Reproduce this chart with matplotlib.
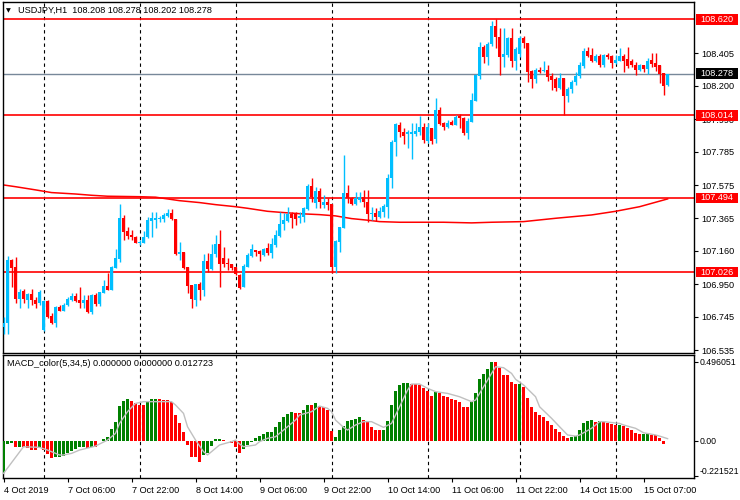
import numpy as np
import matplotlib.pyplot as plt
from matplotlib.patches import Rectangle
from matplotlib.transforms import blended_transform_factory

plt.rcParams['font.family'] = ['Liberation Sans', 'DejaVu Sans']
plt.rcParams['font.size'] = 6.6

# USDJPY H1 candles, bar 0 = 4 Oct 2019 14:00
opens = [106.683, 106.709, 107.104, 107.058, 106.860, 106.906, 106.854, 106.888, 106.850, 106.831,
         106.665, 106.843, 106.751, 106.709, 106.808, 106.782, 106.818, 106.852, 106.877, 106.852,
         106.833, 106.852, 106.778, 106.881, 106.826, 106.898, 106.940, 106.915, 107.055, 107.110,
         107.370, 107.286, 107.261, 107.250, 107.213, 107.213, 107.247, 107.349, 107.356, 107.360,
         107.364, 107.381, 107.402, 107.362, 107.143, 107.156, 107.061, 106.946, 106.852, 106.951,
         106.915, 107.097, 107.045, 107.140, 107.204, 107.114, 107.080, 107.077, 107.061, 107.009,
         106.932, 107.061, 107.129, 107.167, 107.160, 107.135, 107.177, 107.146, 107.198, 107.257,
         107.330, 107.351, 107.393, 107.398, 107.366, 107.376, 107.423, 107.572, 107.465, 107.538,
         107.450, 107.471, 107.458, 107.060, 107.219, 107.307, 107.524, 107.496, 107.458, 107.482,
         107.502, 107.467, 107.395, 107.400, 107.376, 107.408, 107.439, 107.618, 107.845, 107.954,
         107.912, 107.896, 107.899, 107.897, 107.908, 107.940, 107.855, 107.937, 107.866, 108.049,
         107.965, 107.943, 107.975, 107.954, 108.013, 107.996, 107.906, 107.975, 108.107, 108.265,
         108.447, 108.384, 108.462, 108.578, 108.510, 108.384, 108.395, 108.504, 108.357, 108.400,
         108.504, 108.471, 108.294, 108.244, 108.301, 108.294, 108.301, 108.265, 108.244, 108.189,
         108.252, 108.137, 108.181, 108.223, 108.263, 108.328, 108.420, 108.395, 108.357, 108.391,
         108.332, 108.395, 108.389, 108.343, 108.359, 108.391, 108.370, 108.357, 108.332, 108.301,
         108.332, 108.307, 108.364, 108.343, 108.332, 108.280, 108.208]
highs = [106.746, 107.129, 107.110, 107.121, 106.921, 106.921, 106.898, 106.921, 106.872, 106.915,
         106.852, 106.852, 106.768, 106.812, 106.822, 106.833, 106.872, 106.894, 106.894, 106.934,
         106.883, 106.883, 106.888, 106.894, 106.904, 106.978, 107.024, 107.066, 107.173, 107.456,
         107.387, 107.313, 107.293, 107.255, 107.230, 107.288, 107.373, 107.406, 107.406, 107.381,
         107.402, 107.427, 107.427, 107.362, 107.219, 107.156, 107.061, 106.946, 106.951, 106.967,
         107.141, 107.148, 107.204, 107.261, 107.293, 107.184, 107.118, 107.077, 107.061, 107.015,
         107.078, 107.146, 107.203, 107.167, 107.167, 107.181, 107.209, 107.240, 107.293, 107.408,
         107.398, 107.439, 107.408, 107.408, 107.408, 107.439, 107.581, 107.618, 107.565, 107.559,
         107.513, 107.496, 107.458, 107.230, 107.313, 107.765, 107.576, 107.502, 107.534, 107.534,
         107.545, 107.545, 107.439, 107.429, 107.439, 107.455, 107.644, 107.860, 107.965, 107.971,
         107.933, 107.923, 107.965, 107.965, 108.013, 107.965, 107.965, 107.937, 108.126, 108.069,
         107.975, 107.986, 107.986, 108.017, 108.022, 108.006, 107.996, 108.154, 108.274, 108.475,
         108.458, 108.479, 108.609, 108.619, 108.563, 108.567, 108.510, 108.563, 108.447, 108.517,
         108.517, 108.471, 108.301, 108.315, 108.321, 108.357, 108.332, 108.280, 108.258, 108.280,
         108.252, 108.195, 108.238, 108.290, 108.353, 108.437, 108.444, 108.441, 108.400, 108.400,
         108.400, 108.406, 108.395, 108.395, 108.441, 108.400, 108.446, 108.370, 108.353, 108.337,
         108.332, 108.374, 108.406, 108.406, 108.332, 108.280, 108.278]
lows = [106.637, 106.637, 106.935, 106.831, 106.799, 106.831, 106.803, 106.820, 106.803, 106.820,
        106.656, 106.738, 106.699, 106.683, 106.782, 106.779, 106.814, 106.847, 106.841, 106.799,
        106.799, 106.768, 106.763, 106.816, 106.814, 106.894, 106.915, 106.911, 107.053, 107.093,
        107.230, 107.238, 107.230, 107.209, 107.198, 107.209, 107.240, 107.250, 107.303, 107.345,
        107.345, 107.376, 107.356, 107.135, 107.104, 107.045, 106.896, 106.799, 106.816, 106.852,
        106.877, 107.030, 107.041, 107.124, 106.935, 107.061, 107.041, 107.041, 107.009, 106.919,
        106.932, 107.061, 107.124, 107.131, 107.099, 107.129, 107.135, 107.114, 107.187, 107.250,
        107.293, 107.345, 107.303, 107.324, 107.335, 107.345, 107.419, 107.467, 107.429, 107.429,
        107.429, 107.419, 107.020, 107.022, 107.156, 107.303, 107.463, 107.450, 107.450, 107.471,
        107.439, 107.345, 107.356, 107.349, 107.366, 107.376, 107.366, 107.555, 107.761, 107.880,
        107.833, 107.811, 107.740, 107.887, 107.891, 107.839, 107.839, 107.833, 107.839, 107.954,
        107.923, 107.933, 107.951, 107.951, 107.937, 107.891, 107.866, 107.973, 108.105, 108.244,
        108.343, 108.332, 108.452, 108.437, 108.269, 108.321, 108.384, 108.321, 108.301, 108.384,
        108.441, 108.227, 108.185, 108.217, 108.280, 108.290, 108.233, 108.175, 108.168, 108.181,
        108.017, 108.101, 108.154, 108.206, 108.248, 108.311, 108.384, 108.353, 108.349, 108.321,
        108.321, 108.370, 108.315, 108.337, 108.357, 108.290, 108.311, 108.321, 108.269, 108.294,
        108.290, 108.274, 108.321, 108.294, 108.217, 108.143, 108.202]
closes = [106.709, 107.104, 107.055, 106.860, 106.902, 106.860, 106.888, 106.850, 106.826, 106.902,
          106.843, 106.746, 106.709, 106.808, 106.782, 106.818, 106.858, 106.879, 106.847, 106.833,
          106.852, 106.778, 106.881, 106.826, 106.902, 106.940, 106.915, 107.058, 107.114, 107.370,
          107.282, 107.255, 107.247, 107.213, 107.219, 107.250, 107.356, 107.370, 107.370, 107.368,
          107.387, 107.402, 107.364, 107.143, 107.156, 107.051, 106.940, 106.856, 106.951, 106.915,
          107.099, 107.045, 107.140, 107.204, 107.077, 107.077, 107.077, 107.055, 107.014, 106.929,
          107.066, 107.135, 107.173, 107.152, 107.140, 107.173, 107.150, 107.204, 107.261, 107.330,
          107.356, 107.393, 107.366, 107.362, 107.383, 107.429, 107.572, 107.502, 107.538, 107.471,
          107.471, 107.450, 107.060, 107.223, 107.312, 107.526, 107.492, 107.458, 107.496, 107.502,
          107.467, 107.393, 107.402, 107.376, 107.412, 107.444, 107.618, 107.849, 107.960, 107.908,
          107.887, 107.908, 107.908, 107.918, 107.940, 107.860, 107.940, 107.853, 108.049, 107.959,
          107.943, 107.965, 107.954, 108.006, 107.996, 107.902, 107.979, 108.112, 108.269, 108.447,
          108.384, 108.464, 108.578, 108.510, 108.384, 108.400, 108.504, 108.357, 108.433, 108.504,
          108.469, 108.290, 108.244, 108.301, 108.290, 108.301, 108.258, 108.238, 108.189, 108.252,
          108.137, 108.181, 108.227, 108.265, 108.332, 108.420, 108.391, 108.357, 108.391, 108.332,
          108.395, 108.381, 108.347, 108.364, 108.391, 108.359, 108.328, 108.332, 108.301, 108.332,
          108.307, 108.357, 108.337, 108.321, 108.274, 108.202, 108.278]

# moving average (red curve), sampled at bar indices
ma_idx = [0, 3, 8, 12, 18, 22, 26, 34, 38, 41, 44, 49, 53, 58, 61, 66, 70, 74, 79, 83,
          87, 91, 94, 99, 110, 117, 122, 130, 138, 147, 153, 159, 166]
ma_val = [107.576, 107.565, 107.545, 107.528, 107.519, 107.511, 107.505, 107.502, 107.499, 107.488,
          107.477, 107.465, 107.452, 107.439, 107.429, 107.410, 107.402, 107.395, 107.389, 107.381,
          107.364, 107.354, 107.345, 107.341, 107.341, 107.337, 107.341, 107.345, 107.366, 107.387,
          107.410, 107.439, 107.488]

levels = [108.620, 108.014, 107.494, 107.026]
last_price = 108.278
price_ticks = [108.405, 108.200, 107.990, 107.785, 107.575, 107.365, 107.160, 106.950, 106.745, 106.535]

# MACD_color(5,34,5) histogram; flag 1 = green, 0 = red
hist = [-0.206, -0.021, -0.017, -0.038, -0.038, -0.038, -0.048, -0.059, -0.059, -0.048,
        -0.059, -0.084, -0.111, -0.101, -0.101, -0.097, -0.080, -0.065, -0.050, -0.042,
        -0.038, -0.048, -0.038, -0.042, -0.002, 0.008, 0.021, 0.071, 0.120, 0.221,
        0.250, 0.261, 0.252, 0.235, 0.225, 0.223, 0.246, 0.261, 0.263, 0.261,
        0.258, 0.256, 0.246, 0.162, 0.109, 0.057, -0.027, -0.101, -0.105, -0.132,
        -0.090, -0.080, -0.034, 0.011, 0.013, 0.004, -0.002, -0.013, -0.038, -0.076,
        -0.055, -0.027, -0.006, 0.015, 0.029, 0.042, 0.053, 0.057, 0.084, 0.120,
        0.147, 0.168, 0.179, 0.176, 0.172, 0.193, 0.225, 0.223, 0.235, 0.218,
        0.210, 0.193, 0.063, 0.021, 0.067, 0.095, 0.126, 0.130, 0.134, 0.147,
        0.130, 0.126, 0.084, 0.067, 0.065, 0.067, 0.126, 0.225, 0.313, 0.351,
        0.361, 0.363, 0.359, 0.355, 0.351, 0.330, 0.315, 0.282, 0.309, 0.298,
        0.282, 0.273, 0.261, 0.256, 0.246, 0.214, 0.212, 0.246, 0.303, 0.387,
        0.420, 0.452, 0.496, 0.494, 0.456, 0.416, 0.414, 0.370, 0.355, 0.357,
        0.336, 0.267, 0.210, 0.183, 0.162, 0.147, 0.126, 0.099, 0.071, 0.057,
        0.029, 0.019, 0.025, 0.032, 0.067, 0.109, 0.126, 0.130, 0.120, 0.122,
        0.118, 0.109, 0.105, 0.099, 0.101, 0.092, 0.078, 0.067, 0.046, 0.042,
        0.044, 0.046, 0.036, 0.034, 0.015, -0.021, 0.000]
hist_up = [1, 1, 1, 0, 1, 0, 0, 0, 0, 1,
           0, 0, 0, 1, 1, 1, 1, 1, 1, 1,
           1, 0, 1, 0, 1, 1, 1, 1, 1, 1,
           1, 1, 0, 0, 0, 0, 1, 1, 1, 0,
           0, 0, 0, 0, 0, 0, 0, 0, 0, 0,
           1, 1, 1, 1, 1, 0, 0, 0, 0, 0,
           1, 1, 1, 1, 1, 1, 1, 1, 1, 1,
           1, 1, 1, 0, 0, 1, 1, 0, 1, 0,
           0, 0, 0, 1, 1, 1, 1, 1, 1, 1,
           0, 0, 0, 0, 0, 1, 1, 1, 1, 1,
           1, 1, 0, 0, 0, 0, 0, 0, 1, 0,
           0, 0, 0, 0, 0, 0, 0, 1, 1, 1,
           1, 1, 1, 0, 0, 0, 0, 0, 0, 1,
           0, 0, 0, 0, 0, 0, 0, 0, 0, 0,
           0, 0, 1, 1, 1, 1, 1, 1, 0, 1,
           0, 0, 0, 0, 1, 0, 0, 0, 0, 0,
           1, 1, 0, 0, 0, 0, 0]
sig_idx = [0, 5, 9, 11, 14, 15, 17, 19, 23, 24, 26, 28, 29, 31, 33, 35, 42, 43, 45, 46,
           48, 50, 51, 52, 54, 57, 58, 59, 60, 63, 64, 66, 68, 70, 73, 74, 77, 79, 81, 82,
           83, 85, 86, 88, 90, 92, 95, 97, 99, 101, 102, 104, 106, 108, 111, 114, 117, 118, 120, 122,
           123, 125, 127, 128, 130, 133, 134, 137, 139, 141, 143, 144, 147, 149, 150, 154, 155, 158, 160, 163,
           164, 166]
sig_val = [-0.206, -0.038, -0.042, -0.059, -0.090, -0.090, -0.080, -0.059, -0.034, -0.021,
           0.004, 0.046, 0.109, 0.183, 0.235, 0.246, 0.246, 0.225, 0.172, 0.088,
           0.004, -0.069, -0.090, -0.069, -0.027, -0.006, 0.004, -0.021, -0.038, -0.027,
           -0.006, 0.015, 0.025, 0.067, 0.130, 0.162, 0.183, 0.218, 0.204, 0.183,
           0.130, 0.084, 0.067, 0.099, 0.120, 0.120, 0.084, 0.109, 0.214, 0.319,
           0.357, 0.357, 0.330, 0.309, 0.298, 0.277, 0.246, 0.256, 0.340, 0.424,
           0.466, 0.460, 0.424, 0.387, 0.351, 0.277, 0.214, 0.141, 0.088, 0.036,
           0.029, 0.036, 0.078, 0.120, 0.120, 0.109, 0.099, 0.078, 0.050, 0.036,
           0.029, 0.013]
macd_ticks = [0.496051, 0.0, -0.221521]
macd_tick_labels = ['0.496051', '0.00', '-0.221521']

date_bars = [0, 16, 32, 48, 64, 80, 96, 112, 128, 144, 160]
date_labels = ['4 Oct 2019', '7 Oct 06:00', '7 Oct 22:00', '8 Oct 14:00', '9 Oct 06:00',
               '9 Oct 22:00', '10 Oct 14:00', '11 Oct 06:00', '11 Oct 22:00', '14 Oct 15:00',
               '15 Oct 07:00']
day_bars = [10, 34, 58, 82, 106, 129, 153]

BULL = '#00BFFF'
BEAR = '#FF0000'
W, H = 740, 500


def px_box(left, top, right, bottom):
    return [left / W, 1 - bottom / H, (right - left) / W, (bottom - top) / H]


fig = plt.figure(figsize=(7.4, 5.0), dpi=100)
ax = fig.add_axes(px_box(3, 2, 694, 353))
ax2 = fig.add_axes(px_box(3, 355, 694, 478), sharex=ax)

# candles
o = np.array(opens)
c = np.array(closes)
hi = np.array(highs)
lo = np.array(lows)
x = np.arange(len(o))
col = np.where(c >= o, BULL, BEAR)
ax.vlines(x, lo, hi, colors=col, lw=1, zorder=3)
ax.bar(x, np.maximum(np.abs(c - o), 0.006), bottom=np.minimum(o, c), width=0.72,
       color=col, linewidth=0, zorder=3)

ax.plot(ma_idx, ma_val, color='red', lw=1.1, zorder=2)
for lv in levels:
    ax.axhline(lv, color='red', lw=1.2, zorder=2)
ax.axhline(last_price, color='#778899', lw=1, zorder=2)

# price labels on the right axis
tr = blended_transform_factory(ax.transAxes, ax.transData)
for lv, fc in [(levels[0], 'red'), (levels[1], 'red'), (levels[2], 'red'),
               (levels[3], 'red'), (last_price, 'black')]:
    ax.add_patch(Rectangle((1.003, lv - 0.033), 0.061, 0.066, transform=tr,
                           facecolor=fc, edgecolor='none', clip_on=False, zorder=5))
    ax.text(1.0335, lv, f'{lv:.3f}', transform=tr, color='white', ha='center',
            va='center', clip_on=False, zorder=6)

ax.set_xlim(-0.125, 172.6)
ax.set_ylim(106.517, 108.729)
ax.yaxis.tick_right()
ax.set_yticks(price_ticks)
ax.set_yticklabels([f'{t:.3f}' for t in price_ticks])
ax.tick_params(axis='y', length=3, pad=2, width=0.8)
ax.tick_params(axis='x', bottom=False, labelbottom=False)

# MACD panel
ax2.bar(x, hist, width=0.72, color=np.where(np.array(hist_up) == 1, '#008000', '#FF0000'),
        linewidth=0, zorder=3)
ax2.plot(sig_idx, sig_val, color='#C0C0C0', lw=1, zorder=4)
ax2.set_ylim(-0.235, 0.540)
ax2.yaxis.tick_right()
ax2.set_yticks(macd_ticks)
ax2.set_yticklabels(macd_tick_labels)
ax2.tick_params(axis='y', length=3, pad=1, width=0.8, labelsize=6.3)
ax2.get_yticklabels()[2].set_va('bottom')
ax2.set_xticks(date_bars)
ax2.set_xticklabels(date_labels, ha='left')
ax2.tick_params(axis='x', length=3, pad=3, width=0.8)

for a in (ax, ax2):
    for d in day_bars:
        a.axvline(d, color='black', lw=0.8, ls=(0, (3, 3)), zorder=1)
    for s in a.spines.values():
        s.set_color('black')
        s.set_linewidth(1)

fig.text(6 / W, 1 - 10.5 / H, '\u25bc', fontsize=4.5, va='center', family='DejaVu Sans')
fig.text(18 / W, 1 - 10.5 / H, 'USDJPY,H1  108.208 108.278 108.202 108.278', va='center')
fig.text(7 / W, 1 - 364 / H, 'MACD_color(5,34,5) 0.000000 0.000000 0.012723', va='center')

fig.savefig('out.png', dpi=100)
